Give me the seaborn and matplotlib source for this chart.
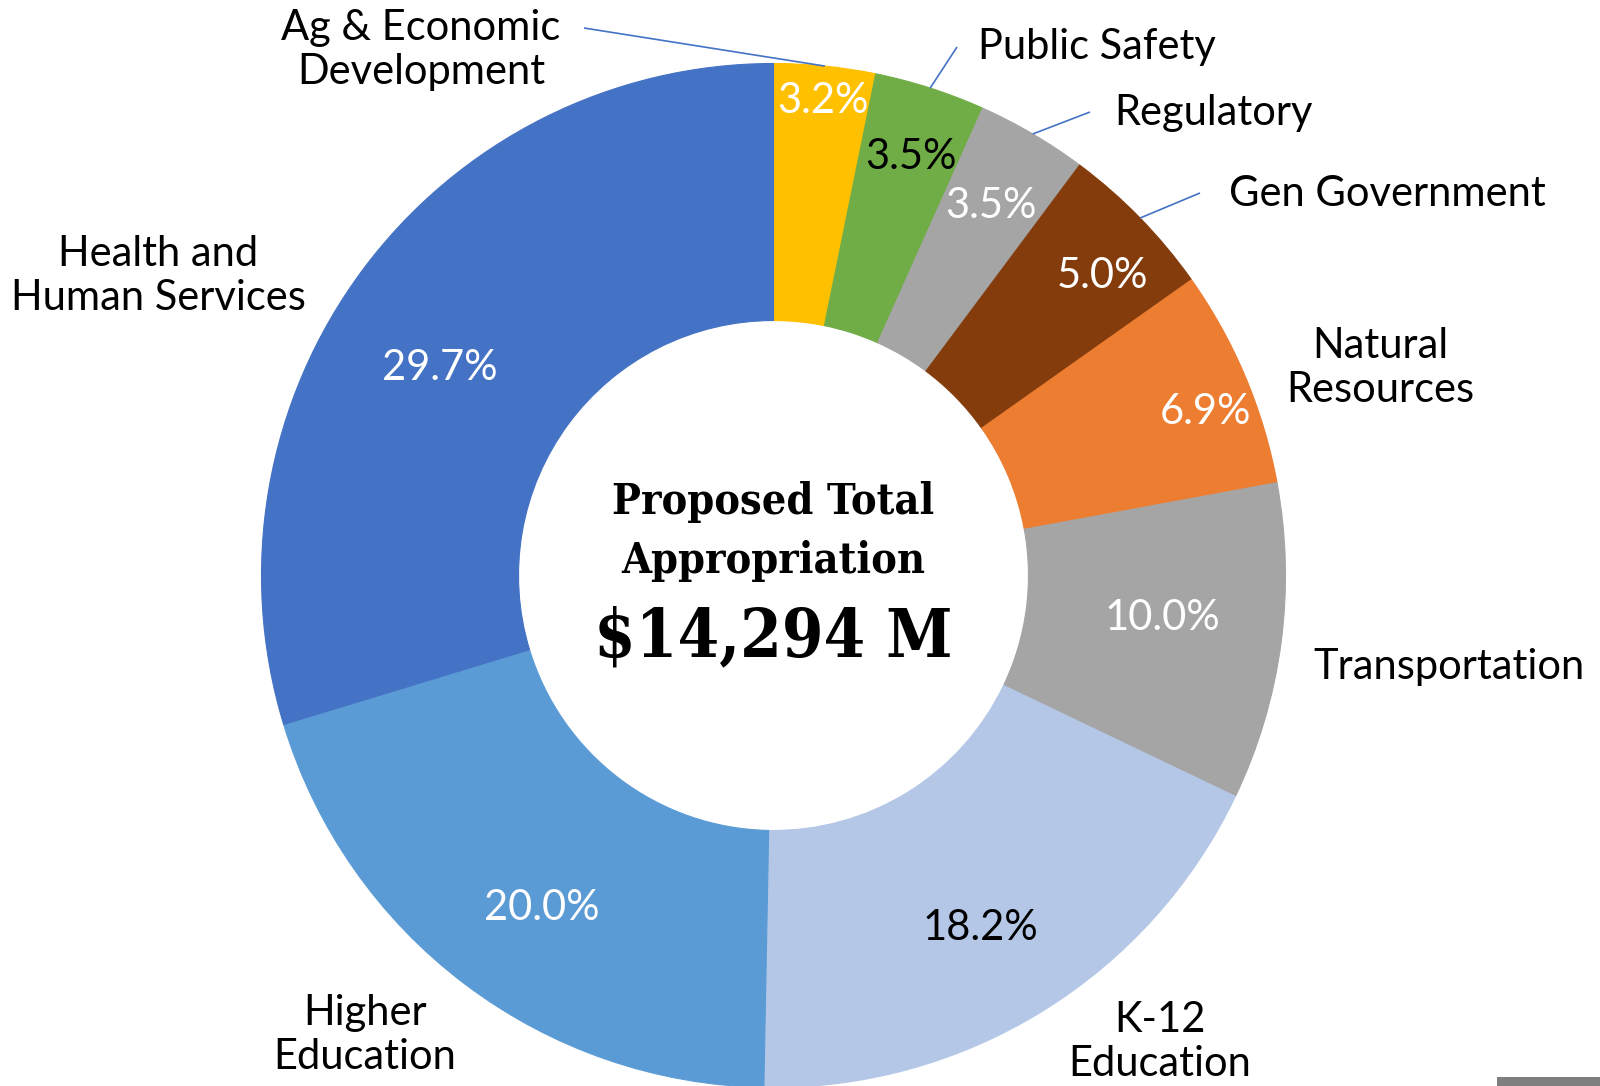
import matplotlib
matplotlib.use("Agg")
import matplotlib.pyplot as plt
import seaborn as sns
import numpy as np
from matplotlib.patches import Rectangle

# budget shares, clockwise from 12 o'clock
categories = ["Ag & Economic\nDevelopment", "Public Safety", "Regulatory", "Gen Government",
              "Natural\nResources", "Transportation", "K-12\nEducation", "Higher\nEducation",
              "Health and\nHuman Services"]
shares = [3.2, 3.5, 3.5, 5.0, 6.9, 10.0, 18.2, 20.0, 29.7]
slice_colors = ["#FFC000", "#70AD47", "#A5A5A5", "#843C0C", "#ED7D31",
                "#A5A5A5", "#B4C7E7", "#5B9BD5", "#4472C4"]
pct_colors = ["white", "black", "white", "white", "white", "white", "black", "white", "white"]
title_lines = ["Proposed Total", "Appropriation"]
total_label = "$14,294 M"

# layout, in pixels from the top-left corner
W, H = 1600, 1086
CX, CY, R = 773.5, 575.5, 512
cat_pos = [(421, 50, "center"), (978, 47, "left"), (1114, 113, "left"), (1229, 194, "left"),
           (1380, 368, "center"), (1313, 667, "left"), (1160, 1042, "center"),
           (365, 1035, "center"), (158, 276, "center")]
pct_pos = [(823, 101), (911, 157), (991, 206), (1102, 276), (1205, 412),
           (1162, 618), (980, 928), (542, 908), (440, 368)]
leader_from = {0: (584, 28), 1: (957, 47), 2: (1090, 112), 3: (1200, 193)}

sns.set_theme(style="white")
plt.rcParams["font.family"] = ["Lato", "DejaVu Sans"]
plt.rcParams["text.color"] = "black"

fig = plt.figure(figsize=(W / 100, H / 100), dpi=100)
ax = fig.add_axes([0, 0, 1, 1])

palette = sns.color_palette(slice_colors)
wedges, _ = ax.pie(shares, colors=palette, startangle=90, counterclock=False,
                   radius=R, center=(CX, H - CY),
                   wedgeprops=dict(width=R * 0.502))
for w in wedges:
    w.set_edgecolor(w.get_facecolor())
    w.set_linewidth(0.8)

ax.set_xlim(0, W)
ax.set_ylim(0, H)
ax.set_aspect("equal")
ax.axis("off")

# percentage labels
for (x, y), v, c in zip(pct_pos, shares, pct_colors):
    ax.text(x, H - y, f"{v:.1f}%", ha="center", va="center", fontsize=30, color=c)

# category labels
for (x, y, ha), name in zip(cat_pos, categories):
    ax.text(x, H - y, name, ha=ha, va="center", fontsize=30, color="black",
            linespacing=1.2, multialignment="center")

# leader lines for the thin slices
for i, (x0, y0) in leader_from.items():
    w = wedges[i]
    mid = np.deg2rad((w.theta1 + w.theta2) / 2)
    x1 = CX + R * np.cos(mid)
    y1 = (H - CY) + R * np.sin(mid)
    ax.plot([x0, x1], [H - y0, y1], color="#4472C4", lw=1.2, solid_capstyle="butt")

# centre text
serif = dict(family="DejaVu Serif", fontstretch="condensed", weight="bold", color="black")
ax.text(CX, H - 502, title_lines[0], ha="center", va="center", fontsize=31, **serif)
ax.text(CX, H - 561, title_lines[1], ha="center", va="center", fontsize=31, **serif)
ax.text(CX, H - 638, total_label, ha="center", va="center", fontsize=48, **serif)

# small grey bar in the bottom-right corner
ax.add_patch(Rectangle((1497, 0), W - 1497, 9, color="#7F7F7F", lw=0))

fig.savefig("out.png", dpi=100)
